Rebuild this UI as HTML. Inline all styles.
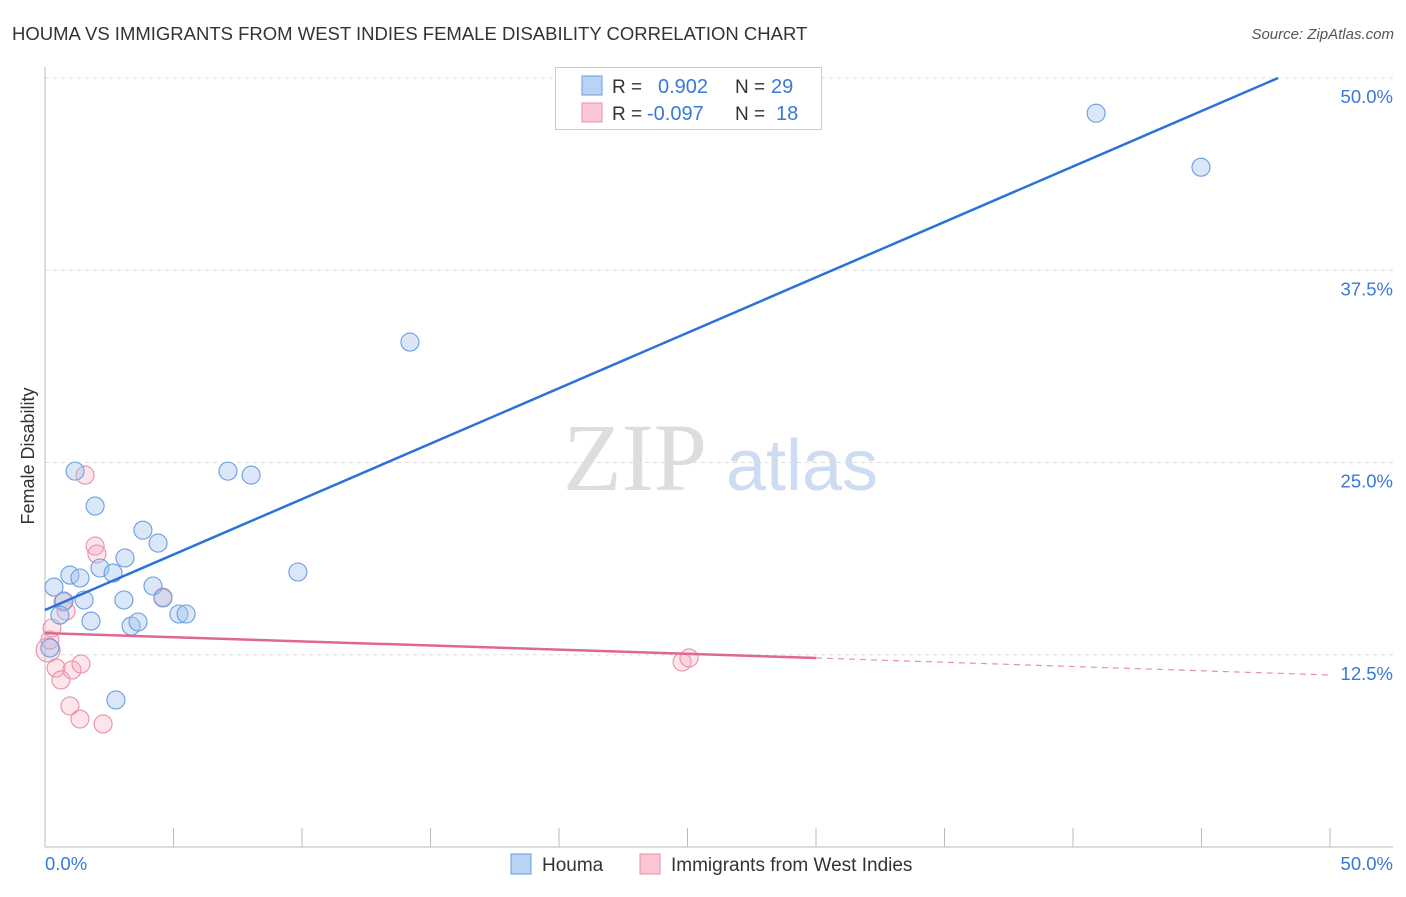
<!DOCTYPE html>
<html><head><meta charset="utf-8"><style>
body{margin:0;background:#fff;font-family:"Liberation Sans",sans-serif;}
</style></head><body>
<svg id="chart" width="1406" height="892" style="font-family:'Liberation Sans',sans-serif">
<text x="12" y="40" font-size="18.5" fill="#333">HOUMA VS IMMIGRANTS FROM WEST INDIES FEMALE DISABILITY CORRELATION CHART</text>
<text x="1394" y="39" font-size="15" fill="#555" font-style="italic" text-anchor="end">Source: ZipAtlas.com</text>
<text x="34" y="456" font-size="18" fill="#333" text-anchor="middle" transform="rotate(-90 34 456)">Female Disability</text>
<g><text x="635" y="490" font-size="96" fill="#ddd" style="font-family:'Liberation Serif',serif" text-anchor="middle">ZIP</text><text x="802" y="490" font-size="72" fill="#cddcf2" text-anchor="middle">atlas</text></g>
<g id="grid"></g><g id="axes"></g><g id="marks"></g>
<g>
<rect x="555.5" y="67.5" width="266" height="62" fill="#fff" stroke="#ccc"/>
<rect x="582" y="76" width="20" height="19" fill="#b9d3f5" stroke="#6a9de0"/>
<rect x="582" y="103" width="20" height="19" fill="#f9c7d4" stroke="#e890a8"/>
<text x="612" y="93" font-size="19" fill="#333">R = </text><text x="658" y="93" font-size="20" fill="#3a78d8">0.902</text>
<text x="735" y="93" font-size="19" fill="#333">N = </text><text x="771" y="93" font-size="20" fill="#3a78d8">29</text>
<text x="612" y="120" font-size="19" fill="#333">R = </text><text x="647" y="120" font-size="20" fill="#3a78d8">-0.097</text>
<text x="735" y="120" font-size="19" fill="#333">N = </text><text x="776" y="120" font-size="20" fill="#3a78d8">18</text>
</g>
<g>
<rect x="511" y="854" width="20" height="20" fill="#b9d3f5" stroke="#6a9de0"/>
<text x="542" y="871" font-size="19" fill="#333">Houma</text>
<rect x="640" y="854" width="20" height="20" fill="#f9c7d4" stroke="#e890a8"/>
<text x="671" y="871" font-size="19" fill="#333">Immigrants from West Indies</text>
</g>
</svg>
<script>
const yTicks=[12.5,25,37.5,50];
const yTickLabels=["12.5%","25.0%","37.5%","50.0%"];
const xTickLabels=["0.0%","50.0%"];
const houmaX=[1.17,1.95,3.81,4.40,3.11,2.14,2.65,0.97,1.36,0.35,4.20,3.07,1.52,0.74,0.58,1.79,3.35,3.62,4.59,5.21,5.49,2.76,7.12,8.02,9.84,14.20,40.90,44.98,0.19];
const houmaY=[24.44,22.17,20.6,19.76,18.79,18.14,17.81,17.68,17.49,16.9,16.97,16.06,16.06,15.99,15.08,14.69,14.37,14.63,16.19,15.15,15.15,9.56,24.44,24.18,17.88,32.83,47.71,44.2,12.94];
const wiX=[1.56,1.95,2.02,0.70,0.82,0.27,0.12,0.19,0.43,1.05,1.40,0.62,0.97,1.36,2.26,4.59,24.79,25.06];
const wiY=[24.18,19.57,19.05,15.93,15.34,14.24,12.81,13.46,11.64,11.51,11.9,10.86,9.17,8.32,8.0,16.25,12.03,12.29];
const houmaTrend=[15.41,50];
const wiTrend=[13.91,12.29,11.18];
const NS="http://www.w3.org/2000/svg";
const X=v=>45+v*25.7, Y=v=>847-v*15.38;
function mk(t,a,p){const e=document.createElementNS(NS,t);for(const k in a)e.setAttribute(k,a[k]);p.appendChild(e);return e;}
const grid=document.getElementById('grid'),axes=document.getElementById('axes'),marks=document.getElementById('marks');
yTicks.forEach((t,i)=>{
 const l=mk('line',{x1:45,x2:1393,y1:Y(t),y2:Y(t),stroke:'#ddd','stroke-dasharray':'4 4'},grid);
 
 
 const tx=mk('text',{x:1393,y:Y(t)+25,'font-size':18.5,fill:'#3a78d8','text-anchor':'end'},axes);
 tx.textContent=yTickLabels[i];
 
 
});
mk('line',{x1:45,x2:45,y1:67,y2:847,stroke:'#bbb'},axes);
mk('line',{x1:45,x2:1393,y1:847,y2:847,stroke:'#bbb'},axes);
for(let i=0;i<=10;i++){const t=mk('line',{x1:X(i*5),x2:X(i*5),y1:828,y2:847,stroke:'#bbb'},axes);
 
 }
[[45,'start',0],[1393,'end',1]].forEach(([x,a,i])=>{const t=mk('text',{x:x,y:870,'font-size':18.5,fill:'#3a78d8','text-anchor':a},axes);t.textContent=xTickLabels[i];
 
 });
wiX.forEach((x,i)=>{const c=mk('circle',{cx:X(x),cy:Y(wiY[i]),r:i==6?12:9,fill:'rgba(245,170,190,0.3)',stroke:'#e890a8','stroke-width':1.1},marks);
 
 });
houmaX.forEach((x,i)=>{const c=mk('circle',{cx:X(x),cy:Y(houmaY[i]),r:9,fill:'rgba(160,195,240,0.4)',stroke:'#6a9de0','stroke-width':1.1},marks);
 
 });
const bl=mk('line',{x1:X(0),y1:Y(houmaTrend[0]),x2:X(47.98),y2:Y(houmaTrend[1]),stroke:'#2a72d8','stroke-width':2.5},marks);


const pl=mk('line',{x1:X(0),y1:Y(wiTrend[0]),x2:X(30),y2:Y(wiTrend[1]),stroke:'#e06890','stroke-width':2.5},marks);


const pd=mk('line',{x1:X(30),y1:Y(wiTrend[1]),x2:X(50),y2:Y(wiTrend[2]),stroke:'#e890a8','stroke-width':1.2,'stroke-dasharray':'6 5'},marks);


</script>
</body></html>
